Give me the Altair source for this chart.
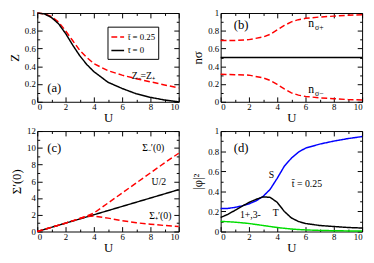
import altair as alt
import pandas as pd

FONT = "Liberation Serif"
RED, BLUE, GREEN, BLACK = "#ff0000", "#0000ff", "#00dd00", "#000000"

# ---------------- data ----------------
# (a) quasiparticle weight Z
U_a = [0, 0.5, 1, 1.5, 2, 2.5, 3, 3.5, 4, 5, 6, 7, 8, 9, 10]
Z_t0 = [1.0, 0.99, 0.95, 0.88, 0.77, 0.64, 0.52, 0.42, 0.34, 0.22, 0.15, 0.09, 0.05, 0.02, 0.0]
Z_t025 = [1.0, 0.99, 0.96, 0.90, 0.80, 0.69, 0.58, 0.50, 0.43, 0.35, 0.30, 0.26, 0.225, 0.19, 0.155]
SERIES_A = ["t\u0304 = 0.25", "t\u0304 = 0"]

# (b) occupations n_sigma
U_b = [0, 1, 2, 3, 3.5, 4, 4.5, 5, 5.5, 6, 7, 8, 9, 10]
n_plus = [0.69, 0.69, 0.70, 0.73, 0.76, 0.81, 0.86, 0.90, 0.925, 0.94, 0.955, 0.965, 0.975, 0.98]
n_minus = [0.31, 0.305, 0.30, 0.27, 0.24, 0.195, 0.145, 0.10, 0.075, 0.06, 0.045, 0.035, 0.025, 0.02]
U_half = [0, 10]
n_half = [0.5, 0.5]

# (c) self-energy slopes
U_c = [0, 1, 2, 3, 3.5, 4, 5, 6, 7, 8, 9, 10]
sig_minus = [0, 0.5, 1.0, 1.55, 1.85, 2.2, 3.4, 4.6, 5.8, 7.0, 8.2, 9.35]
sig_plus = [0, 0.5, 1.0, 1.55, 1.8, 1.85, 1.6, 1.3, 1.05, 0.87, 0.72, 0.6]
sig_half = [0, 0.5, 1.0, 1.5, 1.75, 2.0, 2.5, 3.0, 3.5, 4.0, 4.5, 5.0]

# (d) weights |phi|^2
U_d = [0, 0.5, 1, 1.5, 2, 2.5, 3, 3.5, 4, 4.5, 5, 5.5, 6, 7, 8, 9, 10]
phi_S = [0.23, 0.23, 0.24, 0.255, 0.275, 0.305, 0.35, 0.42, 0.53, 0.65, 0.73, 0.79, 0.83, 0.87, 0.90, 0.925, 0.945]
phi_T = [0.14, 0.17, 0.21, 0.25, 0.29, 0.32, 0.345, 0.34, 0.29, 0.20, 0.135, 0.10, 0.08, 0.06, 0.05, 0.04, 0.035]
phi_13 = [0.10, 0.098, 0.093, 0.087, 0.08, 0.07, 0.06, 0.05, 0.04, 0.032, 0.025, 0.02, 0.016, 0.011, 0.008, 0.006, 0.005]

X_TICKS = [0, 2, 4, 6, 8, 10]
X_MINOR = [1, 3, 5, 7, 9]
Y_UNIT_TICKS = [0, 0.2, 0.4, 0.6, 0.8, 1]
Y_UNIT_MINOR = [0.1, 0.3, 0.5, 0.7, 0.9]
Y_C_TICKS = [0, 2, 4, 6, 8, 10, 12]
Y_C_MINOR = [1, 3, 5, 7, 9, 11]

W = 145
H_TOP, H_BOT = 91, 103
TICK, MINOR = 5, 2.5

XS = alt.Scale(domain=[0, 10], nice=False)


def axis_common(size=TICK):
    return dict(domain=False, grid=False, tickSize=size, offset=-size, tickColor=BLACK,
                tickWidth=1, labelFont=FONT, labelFontSize=9, labelColor=BLACK,
                titleFont=FONT, titleFontSize=13, titleFontWeight="normal", titleColor=BLACK)


def bottom_axis():
    return alt.Axis(orient="bottom", values=X_TICKS, title="U", labelPadding=1, titlePadding=0,
                    **axis_common())


def left_axis(values, title):
    return alt.Axis(orient="left", values=values, title=title, format="~g", labelPadding=2,
                    titlePadding=3, **axis_common())


def bare_axis(orient, values, size):
    return alt.Axis(orient=orient, values=values, title="", labels=False, **axis_common(size))


def line_layer(xs, ys, color, dashed, ysc, xaxis=None, yaxis=None):
    df = pd.DataFrame({"U": xs, "v": ys})
    return alt.Chart(df).mark_line(
        color=color, strokeWidth=1.5, strokeDash=[6, 3] if dashed else [1, 0]
    ).encode(
        x=alt.X("U:Q", scale=XS, axis=xaxis),
        y=alt.Y("v:Q", scale=ysc, axis=yaxis),
    )


def ghost_layers(xs, ys, ysc, ymajor, yminor):
    """Invisible layers that only carry the extra inward tick axes of the frame."""
    df = pd.DataFrame({"U": xs, "v": ys})
    specs = [
        ("top", X_TICKS, "right", ymajor, TICK),
        ("top", X_MINOR, "right", yminor, MINOR),
        ("bottom", X_MINOR, "left", yminor, MINOR),
    ]
    out = []
    for xo, xv, yo, yv, sz in specs:
        out.append(alt.Chart(df).mark_line(opacity=0).encode(
            x=alt.X("U:Q", scale=XS, axis=bare_axis(xo, xv, sz)),
            y=alt.Y("v:Q", scale=ysc, axis=bare_axis(yo, yv, sz)),
        ))
    return out


def text_layer(xs, ys, texts, ysc, size=11, align="center", dx=0, dy=0):
    df = pd.DataFrame({"U": xs, "v": ys, "t": texts})
    return alt.Chart(df).mark_text(
        font=FONT, fontSize=size, color=BLACK, align=align, baseline="middle", dx=dx, dy=dy
    ).encode(
        x=alt.X("U:Q", scale=XS, axis=None),
        y=alt.Y("v:Q", scale=ysc, axis=None),
        text="t:N",
    )


def finish(layers, h):
    return alt.layer(*layers).resolve_axis(x="independent", y="independent").properties(
        width=W, height=h)


# ---------------- panel (a) ----------------
ys_a = alt.Scale(domain=[0, 1], nice=False)
df_a = pd.DataFrame({
    "U": U_a + U_a,
    "v": Z_t025 + Z_t0,
    "s": [SERIES_A[0]] * len(U_a) + [SERIES_A[1]] * len(U_a),
})
leg = dict(title=None, orient="none", legendX=72, legendY=14, strokeColor=BLACK, padding=3,
           fillColor="white", labelFont=FONT, labelFontSize=9, labelColor=BLACK,
           symbolType="stroke", symbolStrokeWidth=1.5, symbolSize=170, rowPadding=1,
           labelOffset=3)
lines_a = alt.Chart(df_a).mark_line(strokeWidth=1.5).encode(
    x=alt.X("U:Q", scale=XS, axis=bottom_axis()),
    y=alt.Y("v:Q", scale=ys_a, axis=left_axis(Y_UNIT_TICKS, "Z")),
    color=alt.Color("s:N", scale=alt.Scale(domain=SERIES_A, range=[RED, BLACK]),
                    legend=alt.Legend(**leg)),
    strokeDash=alt.StrokeDash("s:N", scale=alt.Scale(domain=SERIES_A, range=[[6, 3], [1, 0]]),
                              legend=alt.Legend(**leg)),
)
panel_a = finish([
    lines_a,
    *ghost_layers(U_a, Z_t0, ys_a, Y_UNIT_TICKS, Y_UNIT_MINOR),
    text_layer([1.2], [0.15], ["(a)"], ys_a, size=13),
    text_layer([7.5], [0.285], ["Z\u208b=Z\u208a"], ys_a, size=10),
], H_TOP)

# ---------------- panel (b) ----------------
ys_b = alt.Scale(domain=[0, 1], nice=False)
panel_b = finish([
    line_layer(U_half, n_half, BLACK, False, ys_b, bottom_axis(), left_axis(Y_UNIT_TICKS, "n\u03c3")),
    line_layer(U_b, n_plus, RED, True, ys_b),
    line_layer(U_b, n_minus, RED, True, ys_b),
    *ghost_layers(U_half, n_half, ys_b, Y_UNIT_TICKS, Y_UNIT_MINOR),
    text_layer([1.45], [0.86], ["(b)"], ys_b, size=13),
    text_layer([6.4, 6.4], [0.885, 0.14], ["n", "n"], ys_b, size=12),
    text_layer([6.4, 6.4], [0.885, 0.14], ["\u03c3+", "\u03c3\u2212"], ys_b, size=8,
               align="left", dx=4, dy=5),
], H_TOP)

# ---------------- panel (c) ----------------
ys_c = alt.Scale(domain=[0, 12], nice=False)
panel_c = finish([
    line_layer(U_c, sig_half, BLACK, False, ys_c, bottom_axis(), left_axis(Y_C_TICKS, "\u03a3\u2032(0)")),
    line_layer(U_c, sig_minus, RED, True, ys_c),
    line_layer(U_c, sig_plus, RED, True, ys_c),
    *ghost_layers(U_c, sig_half, ys_c, Y_C_TICKS, Y_C_MINOR),
    text_layer([1.2], [10.0], ["(c)"], ys_c, size=13),
    text_layer([8.2, 8.6, 8.7], [10.0, 5.9, 1.9],
               ["\u03a3\u208b\u2032(0)", "U/2", "\u03a3\u208a\u2032(0)"], ys_c, size=10),
], H_BOT)

# ---------------- panel (d) ----------------
ys_d = alt.Scale(domain=[0, 1], nice=False)
panel_d = finish([
    line_layer(U_d, phi_S, BLUE, False, ys_d, bottom_axis(), left_axis(Y_UNIT_TICKS, "|\u03c6|\u00b2")),
    line_layer(U_d, phi_T, BLACK, False, ys_d),
    line_layer(U_d, phi_13, GREEN, False, ys_d),
    *ghost_layers(U_d, phi_S, ys_d, Y_UNIT_TICKS, Y_UNIT_MINOR),
    text_layer([1.45], [0.83], ["(d)"], ys_d, size=13),
    text_layer([3.6, 3.9, 6.1, 2.1], [0.56, 0.18, 0.47, 0.165],
               ["S", "T", "t\u0304 = 0.25", "1+,3-"], ys_d, size=10),
], H_BOT)

chart = alt.concat(
    panel_a, panel_b, panel_c, panel_d, columns=2,
    spacing=alt.RowColnumber(row=30, column=43), bounds="flush",
).resolve_scale(
    color="independent", strokeDash="independent"
).properties(
    padding={"left": 0, "top": -3, "right": 0, "bottom": 0}, background="white"
).configure_view(stroke=BLACK, strokeWidth=1)

chart.save("out.html", embed_options={"renderer": "svg", "actions": False})
